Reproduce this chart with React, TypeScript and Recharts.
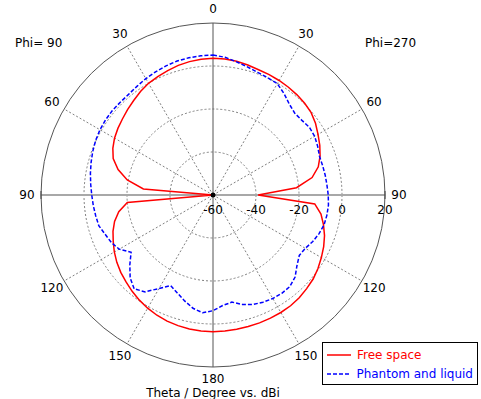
import React from "react";
import { RadarChart, Radar, PolarGrid, PolarAngleAxis, PolarRadiusAxis, Legend } from "recharts";

// theta in degrees, one cut per side (Phi=90 on the left, Phi=270 on the right)
const THETA = [
  0, 5, 10, 15, 20, 25, 30, 35, 40, 45, 50, 55, 60, 65, 70, 75, 80, 85, 90,
  95, 100, 105, 110, 115, 120, 125, 130, 135, 140, 145, 150, 155, 160, 165, 170, 175, 180,
];

// gain in dBi
const FREE_PHI90 = [
  3.6, 3.4, 3.0, 2.4, 1.6, 0.8, 0.0, -1.2, -2.6, -3.8, -5.0, -6.0, -7.1, -8.6, -10.6, -14.3, -19.5, -27.5, -60,
  -20.0, -15.5, -12.6, -10.5, -8.8, -7.0, -5.4, -4.0, -2.8, -1.5, -0.3, 0.8, 1.7, 2.4, 2.9, 3.3, 3.5, 3.6,
];
const FREE_PHI270 = [
  3.6, 3.5, 3.2, 2.6, 2.0, 1.8, 1.5, 1.2, 0.8, 0.3, -0.4, -1.8, -3.6, -5.2, -7.0, -9.3, -13.2, -21.0, -39.0,
  -12.5, -9.0, -6.8, -4.8, -3.2, -1.8, -0.4, 0.8, 1.6, 2.4, 2.9, 3.1, 3.2, 3.3, 3.3, 3.4, 3.5, 3.6,
];
const PHANTOM_PHI90 = [
  5.1, 5.0, 4.8, 4.5, 3.9, 3.2, 2.5, 1.7, 1.1, 1.0, 1.1, 1.0, 0.7, 0.2, -0.5, -1.3, -2.1, -2.9, -3.6,
  -4.1, -4.6, -5.0, -6.6, -7.8, -9.6, -13.5, -9.5, -5.5, -3.0, -5.0, -9.8, -13.5, -11.5, -9.0, -6.5, -5.0, -6.2,
];
const PHANTOM_PHI270 = [
  5.1, 4.3, 2.9, 1.7, 0.7, 0.2, -0.2, -2.4, -4.8, -6.2, -6.0, -5.2, -5.4, -6.3, -7.3, -7.2, -7.0, -6.8, -6.4,
  -6.1, -6.2, -6.5, -7.5, -8.8, -10.4, -11.0, -9.0, -6.0, -4.4, -4.2, -4.4, -5.0, -5.8, -7.3, -9.4, -8.4, -6.2,
];

const R_MIN = -60;
const R_MAX = 20;
const RINGS = [-40, -20, 0];

const SERIES = [
  { key: "free", name: "Free space", color: "#ff0000", dash: undefined as string | undefined },
  { key: "phantom", name: "Phantom and liquid", color: "#0000ff", dash: "4 2" },
];

const FONT = "'DejaVu Sans', Verdana, sans-serif";
const CX = 213;
const CY = 195;
const OUTER = 172;

const rOf = (v: number) => ((v - R_MIN) / (R_MAX - R_MIN)) * OUTER;

// clockwise from the top: right half (phi 270) 0 -> 180, then left half (phi 90) back up 175 -> 5
const data: { pos: number; free: number; phantom: number }[] = [];
THETA.forEach((t, i) => data.push({ pos: t, free: FREE_PHI270[i], phantom: PHANTOM_PHI270[i] }));
for (let i = THETA.length - 2; i > 0; i--) {
  data.push({ pos: 360 - THETA[i], free: FREE_PHI90[i], phantom: PHANTOM_PHI90[i] });
}

function AngleTick(props: any) {
  const { x, y, payload } = props;
  const cx = props.cx ?? CX;
  const cy = props.cy ?? CY;
  const pos = Number(payload.value);
  if (pos % 30 !== 0) return null;
  const dx = x - cx;
  const dy = y - cy;
  const len = Math.hypot(dx, dy) || 1;
  const label = pos <= 180 ? pos : 360 - pos;
  // bottom label sits a bit closer, the axis title is right under it
  const off = label === 180 ? 4 : 6;
  // little end marks where the 90 axis meets the outer circle
  const ex = x - (dx / len) * 8;
  const ey = y - (dy / len) * 8;
  return (
    <g>
      {label === 90 && <line x1={ex} y1={ey - 4} x2={ex} y2={ey + 4} stroke="#444" />}
      <text
        x={x + (dx / len) * off}
        y={y + (dy / len) * off}
        textAnchor="middle"
        dominantBaseline="central"
        fontSize={12}
        fontFamily={FONT}
        fill="#000"
      >
        {label}
      </text>
    </g>
  );
}

function RadiusTick(props: any) {
  const { x, y, payload } = props;
  const v = payload.value;
  return (
    <g>
      {v === R_MIN && <circle cx={x} cy={y} r={2.5} fill="#000" />}
      <text x={x} y={y + 15} textAnchor="middle" dominantBaseline="central" fontSize={12} fontFamily={FONT} fill="#000">
        {v}
      </text>
    </g>
  );
}

function LegendBox() {
  return (
    <div
      style={{
        border: "1px solid #000",
        background: "#fff",
        padding: "2px 4px 1px 4px",
        width: 156,
        boxSizing: "border-box",
        fontFamily: FONT,
        fontSize: 12,
      }}
    >
      {SERIES.map((s) => (
        <div key={s.key} style={{ display: "flex", alignItems: "center", height: 19 }}>
          <svg width={24} height={10} style={{ display: "block" }}>
            <line x1={0} y1={5} x2={24} y2={5} stroke={s.color} strokeWidth={1.5} strokeDasharray={s.dash} />
          </svg>
          <span style={{ color: s.color, marginLeft: 6, whiteSpace: "nowrap" }}>{s.name}</span>
        </div>
      ))}
    </div>
  );
}

export default function App() {
  return (
    <div
      style={{
        position: "absolute",
        left: 0,
        top: 0,
        width: 481,
        height: 399,
        background: "#fff",
        fontFamily: FONT,
        fontSize: 12,
      }}
    >
      <RadarChart
        width={481}
        height={399}
        data={data}
        cx={CX}
        cy={CY}
        outerRadius={OUTER}
        startAngle={90}
        endAngle={-270}
        margin={{ top: 0, right: 0, bottom: 0, left: 0 }}
      >
        {/* dashed rings and spokes */}
        <PolarGrid
          gridType="circle"
          polarAngles={[30, 60, 120, 150, 210, 240, 300, 330]}
          polarRadius={RINGS.map(rOf)}
          stroke="#808080"
          strokeDasharray="2 2"
        />
        {/* horizontal axis */}
        <PolarGrid gridType="circle" polarAngles={[0, 180]} polarRadius={[]} stroke="#a8a8a8" strokeWidth={2} />
        {/* vertical axis + outer circle */}
        <PolarGrid gridType="circle" polarAngles={[90, 270]} polarRadius={[rOf(R_MAX)]} stroke="#555" />
        <PolarAngleAxis dataKey="pos" tick={<AngleTick />} tickLine={false} axisLine={false} />
        <PolarRadiusAxis angle={0} domain={[R_MIN, R_MAX]} tickCount={5} axisLine={false} tick={<RadiusTick />} />
        {SERIES.map((s) => (
          <Radar
            key={s.key}
            name={s.name}
            dataKey={s.key}
            stroke={s.color}
            strokeWidth={1.5}
            strokeDasharray={s.dash}
            fill="none"
            fillOpacity={0}
            dot={false}
            isAnimationActive={false}
          />
        ))}
        <Legend
          align="left"
          verticalAlign="top"
          content={<LegendBox />}
          wrapperStyle={{ left: 322, top: 342, width: 156 }}
        />
      </RadarChart>
      <div style={{ position: "absolute", left: 15, top: 36, lineHeight: "15px", whiteSpace: "nowrap" }}>Phi= 90</div>
      <div style={{ position: "absolute", left: 365, top: 36, lineHeight: "15px", whiteSpace: "nowrap" }}>Phi=270</div>
      <div
        style={{
          position: "absolute",
          left: 113,
          width: 200,
          top: 387,
          lineHeight: "12px",
          textAlign: "center",
          whiteSpace: "nowrap",
        }}
      >
        Theta / Degree vs. dBi
      </div>
    </div>
  );
}
